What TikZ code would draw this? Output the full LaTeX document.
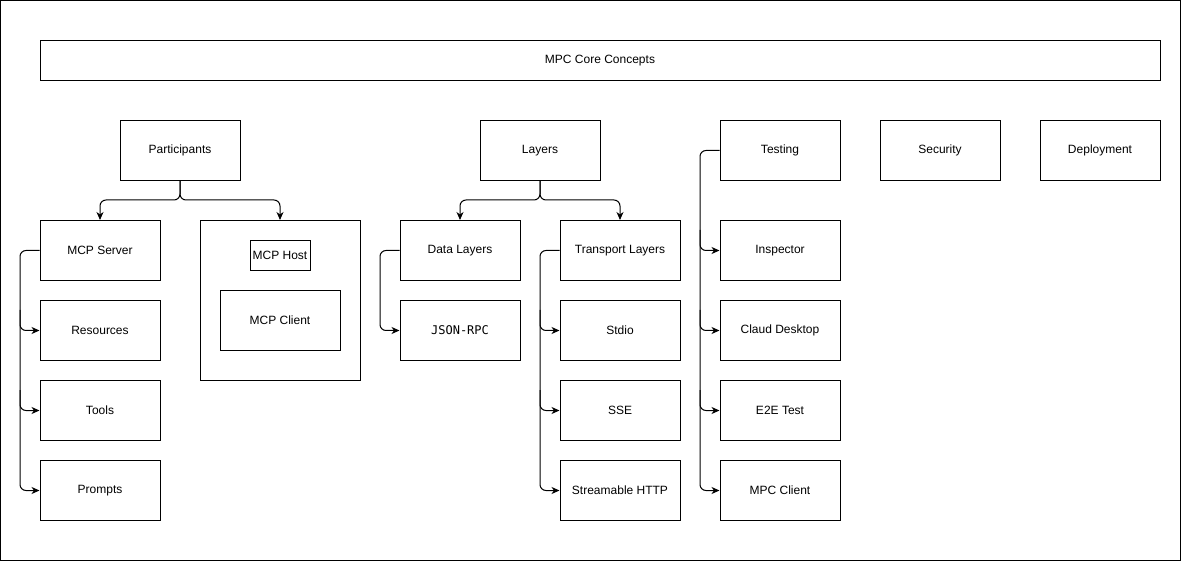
\documentclass[tikz,border=0pt]{standalone}
\usepackage{fontspec}
\setmainfont{Liberation Sans}
\newfontfamily\monofont{DejaVu Sans Mono}
\usetikzlibrary{arrows.meta}
\begin{document}
\begin{tikzpicture}[x=1pt,y=-1pt,
  box/.style={draw,line width=1pt,minimum width=120pt,minimum height=60pt,inner sep=0pt,font=\fontsize{12}{14}\selectfont},
  conn/.style={draw,line width=1pt,rounded corners=6pt,-{Stealth[length=8pt,width=7pt,inset=2.5pt]}}]
\useasboundingbox (0,0) rectangle (1181,561);
\draw[line width=1pt] (0.5,0.5) rectangle (1180.5,560.5);
\node[box,minimum width=1120pt,minimum height=40pt] (title) at (600,60.5) {MPC Core Concepts};
\node[box] (part) at (180,150.5) {Participants};
\node[box] (layers) at (540,150.5) {Layers};
\node[box] (testing) at (780,150.5) {Testing};
\node[box] (security) at (940,150.5) {Security};
\node[box] (deploy) at (1100,150.5) {Deployment};
\node[box] (server) at (100,250.5) {MCP Server};
\node[box] (res) at (100,330.5) {Resources};
\node[box] (tools) at (100,410.5) {Tools};
\node[box] (prompts) at (100,490.5) {Prompts};
\node[box,minimum width=160pt,minimum height=160pt] (hostbox) at (280,300.5) {};
\node[box,minimum width=60pt,minimum height=30pt] (host) at (280,255.5) {MCP Host};
\node[box] (client) at (280,320.5) {MCP Client};
\node[box] (data) at (460,250.5) {Data Layers};
\node[box,font=\monofont\fontsize{12}{14}\selectfont] (json) at (460,330.5) {JSON-RPC};
\node[box] (trans) at (620,250.5) {Transport Layers};
\node[box] (stdio) at (620,330.5) {Stdio};
\node[box] (sse) at (620,410.5) {SSE};
\node[box] (http) at (620,490.5) {Streamable HTTP};
\node[box] (insp) at (780,250.5) {Inspector};
\node[box] (claud) at (780,330.5) {Claud Desktop};
\node[box] (e2e) at (780,410.5) {E2E Test};
\node[box] (mpcc) at (780,490.5) {MPC Client};
% branch points on the trunks
\coordinate (sA) at (20,310); \coordinate (sB) at (20,390);
\coordinate (tA) at (540,310); \coordinate (tB) at (540,390);
\coordinate (qA) at (700,230); \coordinate (qB) at (700,310); \coordinate (qC) at (700,390);
% participants / layers splits
\draw[conn] (part.south) |- (140,200) -| (server.north);
\draw[conn] (part.south) |- (220,200) -| (hostbox.north);
\draw[conn] (layers.south) |- (500,200) -| (data.north);
\draw[conn] (layers.south) |- (580,200) -| (trans.north);
% trunks
\draw[conn] (server.west) -| (20,300) |- (prompts.west);
\draw[conn] (sA) |- (res.west);
\draw[conn] (sB) |- (tools.west);
\draw[conn] (data.west) -| (380,300) |- (json.west);
\draw[conn] (trans.west) -| (540,300) |- (http.west);
\draw[conn] (tA) |- (stdio.west);
\draw[conn] (tB) |- (sse.west);
\draw[conn] (testing.west) -| (700,300) |- (mpcc.west);
\draw[conn] (qA) |- (insp.west);
\draw[conn] (qB) |- (claud.west);
\draw[conn] (qC) |- (e2e.west);
\end{tikzpicture}
\end{document}
